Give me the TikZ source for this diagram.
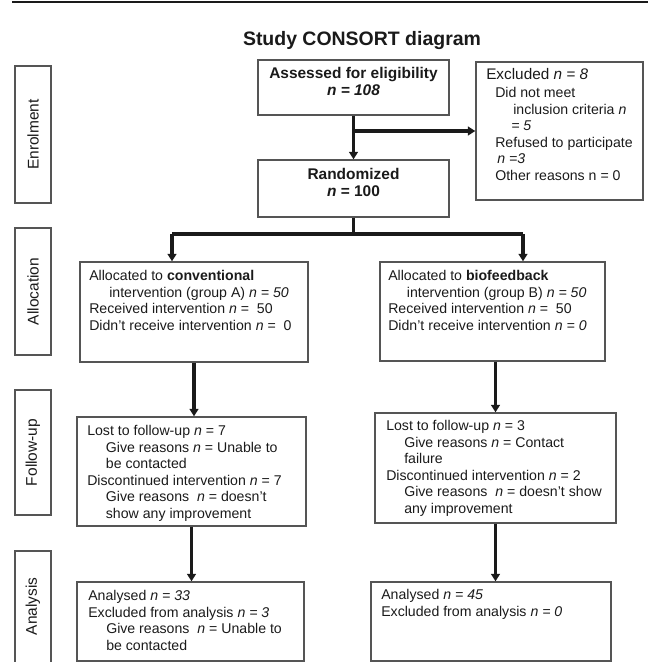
\documentclass[tikz,border=0pt]{standalone}
\usepackage{fontspec}
\setmainfont{Liberation Sans}
\usetikzlibrary{arrows.meta,fit,calc}
\definecolor{boxgray}{HTML}{555555}
\definecolor{inkblack}{HTML}{1A1A1A}
\begin{document}
\begin{tikzpicture}[x=0.75pt,y=-0.75pt,
  box/.style={draw=boxgray, line width=1.05pt, inner sep=0pt},
  txt/.style={inner sep=0pt, anchor=north west, align=left, text=inkblack,
    font=\fontsize{10.6pt}{12.4pt}\selectfont},
  ctxt/.style={inner sep=0pt, anchor=north, align=center, text=inkblack,
    font=\bfseries\fontsize{11.6pt}{13pt}\selectfont},
  arr/.style={draw=inkblack, line width=2.4pt, -{Triangle[length=5.5pt,width=6.5pt]}},
  ln/.style={draw=inkblack, line width=2.4pt},
  side/.style={rotate=90, inner sep=0pt, text=inkblack, font=\fontsize{11.6pt}{14pt}\selectfont}
]
\clip (0,0) rectangle (648,662);
% top rule
\coordinate (ruleL) at (12,2);
\coordinate (ruleR) at (648,2);
\draw[line width=1.7pt, inkblack] (ruleL) -- (ruleR);
% title
\node[anchor=base, inner sep=0pt, text=inkblack, font=\bfseries\fontsize{14.6pt}{17pt}\selectfont] (title) at (362,45) {Study CONSORT diagram};

% side label boxes
\node[box, fit={(15,66) (51,203)}] (lEnr) {};
\node[box, fit={(15,228) (51,355)}] (lAll) {};
\node[box, fit={(15,390) (51,515)}] (lFol) {};
\node[box, fit={(15,551) (51,680)}] (lAna) {};
\node[side] (tEnr) at (lEnr.center) {Enrolment};
\node[side] (tAll) at (lAll.center) {Allocation};
\node[side] (tFol) at (lFol.center) {Follow-up};
\node[side] (tAna) at ($(lAna.north)+(0,56)$) {Analysis};

% main boxes
\node[box, fit={(258,60) (449,115)}] (assess) {};
\node[box, fit={(476,62) (643,200)}] (excl) {};
\node[box, fit={(258,160) (449,217)}] (rand) {};
\node[box, fit={(80,262) (308,362)}] (allocA) {};
\node[box, fit={(380,262) (605,361)}] (allocB) {};
\node[box, fit={(77,417) (306,526)}] (fuA) {};
\node[box, fit={(375,413) (616,523)}] (fuB) {};
\node[box, fit={(77,582) (304,661)}] (anA) {};
\node[box, fit={(371,582) (611,661)}] (anB) {};

% texts
\node[ctxt] (assessT) at (353.5,67) {Assessed for eligibility\\\textit{n = 108}};
\node[ctxt] (randT) at (353.5,168) {Randomized\\\textit{n} = 100};
\node[txt, font=\fontsize{11.5pt}{13pt}\selectfont] (exclT1) at (486,68) {Excluded \textit{n = 8}};
\node[txt] (exclT2) at (495,87) {Did not meet\\\hspace*{13.5pt}inclusion criteria \textit{n}\\\hspace*{12pt}\textit{= 5}\\Refused to participate\\\hspace*{1.5pt}\textit{n =3}\\Other reasons n = 0};
\node[txt] (allocAT) at (89,270) {Allocated to \textbf{conventional}\\\hspace*{15pt}intervention (group A) \textit{n = 50}\\Received intervention \textit{n} =\ \ 50\\Didn't receive intervention \textit{n} =\ \ 0};
\node[txt] (allocBT) at (388,270) {Allocated to \textbf{biofeedback}\\\hspace*{14pt}intervention (group B) \textit{n = 50}\\Received intervention \textit{n} =\ \ 50\\Didn't receive intervention \textit{n = 0}};
\node[txt] (fuAT) at (87,425) {Lost to follow-up \textit{n} = 7\\\hspace*{14pt}Give reasons \textit{n} = Unable to\\\hspace*{14pt}be contacted\\Discontinued intervention \textit{n} = 7\\\hspace*{14pt}Give reasons\ \ \textit{n} = doesn't\\\hspace*{14pt}show any improvement};
\node[txt] (fuBT) at (386,420) {Lost to follow-up \textit{n} = 3\\\hspace*{13.5pt}Give reasons \textit{n} = Contact\\\hspace*{13.5pt}failure\\Discontinued intervention \textit{n} = 2\\\hspace*{13.5pt}Give reasons\ \ \textit{n} = doesn't show\\\hspace*{13.5pt}any improvement};
\node[txt] (anAT) at (88,590) {Analysed \textit{n = 33}\\Excluded from analysis \textit{n = 3}\\\hspace*{13.5pt}Give reasons\ \ \textit{n} = Unable to\\\hspace*{13.5pt}be contacted};
\node[txt] (anBT) at (381,589) {Analysed \textit{n = 45}\\Excluded from analysis \textit{n = 0}};

% connectors
\draw[arr] (assess.south) -- (rand.north);
\draw[arr] (assess.south |- excl.west) -- (excl.west);
\coordinate (split) at (353.5,234);
\coordinate (bl) at (172,234);
\coordinate (br) at (523,234);
\draw[ln] (rand.south) -- (split);
\draw[ln] (bl) -- (br);
\draw[arr] (bl) -- (bl |- allocA.north);
\draw[arr] (br) -- (br |- allocB.north);
\draw[arr] (allocA.south) -- (allocA.south |- fuA.north);
\draw[arr] (fuB.north |- allocB.south) -- (fuB.north);
\draw[arr] (fuA.south) -- (fuA.south |- anA.north);
\draw[arr] (fuB.south) -- (fuB.south |- anB.north);
\end{tikzpicture}
\end{document}
